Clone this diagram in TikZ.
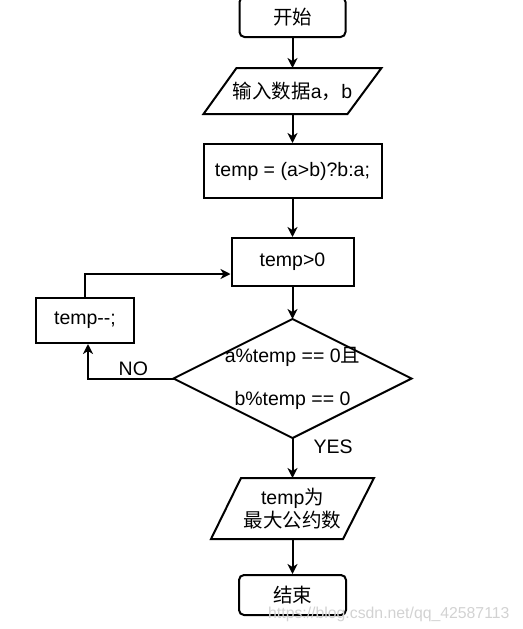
\documentclass[tikz,border=0pt]{standalone}
\usepackage{fontspec}
\setmainfont{Liberation Sans}
\newfontfamily\cjk{Noto Sans CJK SC}
\usetikzlibrary{arrows.meta}
\begin{document}
\begin{tikzpicture}[x=1pt,y=-1pt,
  every node/.style={font=\fontsize{19.5}{23}\selectfont, inner sep=0pt},
  shp/.style={draw, line width=2pt},
  term/.style={shp, rounded corners=5pt},
  ghost/.style={outer sep=1pt},
  flow/.style={line width=2pt, -{Stealth[length=10pt,width=10pt,inset=3pt]}},
  wmark/.style={text=gray!35, font=\fontsize{15.8}{18}\selectfont, anchor=base west}]
\useasboundingbox (0,0) rectangle (522,629);
% nodes
\node[term, minimum width=106, minimum height=40] (s) at (292.5,17) {\cjk 开始};
\node[ghost, minimum width=176, minimum height=44] (in) at (292.5,91) {{\cjk 输入数据}a{\cjk ，}b};
\draw[shp] ([xshift=33pt]in.north west) -- (in.north east) -- ([xshift=-34pt]in.south east) -- (in.south west) -- cycle;
\node[shp, minimum width=178, minimum height=54] (t) at (292.5,171) {temp = (a>b)?b:a;};
\node[shp, minimum width=122, minimum height=48] (g) at (292.5,262) {temp>0};
\node[shp, minimum width=98, minimum height=45] (m) at (85,320.5) {temp-{}-;};
\node[ghost, minimum width=236, minimum height=117, align=center, font=\fontsize{19.5}{43}\selectfont] (d) at (292.5,378.5) {a\%temp == 0{\cjk 且}\\b\%temp == 0};
\draw[shp] (d.north) -- (d.east) -- (d.south) -- (d.west) -- cycle;
\node[ghost, minimum width=161, minimum height=59, align=center] (o) at (292.5,508.5) {temp{\cjk 为}\\{\cjk 最大公约数}};
\draw[shp] ([xshift=30pt]o.north west) -- (o.north east) -- ([xshift=-31pt]o.south east) -- (o.south west) -- cycle;
\node[term, minimum width=107, minimum height=40] (e) at (292.5,595) {\cjk 结束};
% connectors
\draw[flow] (s) -- (in);
\draw[flow] (in) -- (t);
\draw[flow] (t) -- (g);
\draw[flow] (g) -- (d);
\draw[flow] (m.north) |- ([yshift=-12pt]g.west);
\draw[flow] (d.west) -| node[pos=0.235, anchor=south, yshift=2pt] (no) {NO} ([xshift=3pt]m.south);
\draw[flow] (d.south) -- node[pos=0.22, anchor=west, xshift=20pt] (yes) {YES} (o.north);
\draw[flow] (o) -- (e);
% watermark
\node[wmark] (wm) at (268,618) {https://blog.csdn.net/qq\_42587113};
\end{tikzpicture}
\end{document}
